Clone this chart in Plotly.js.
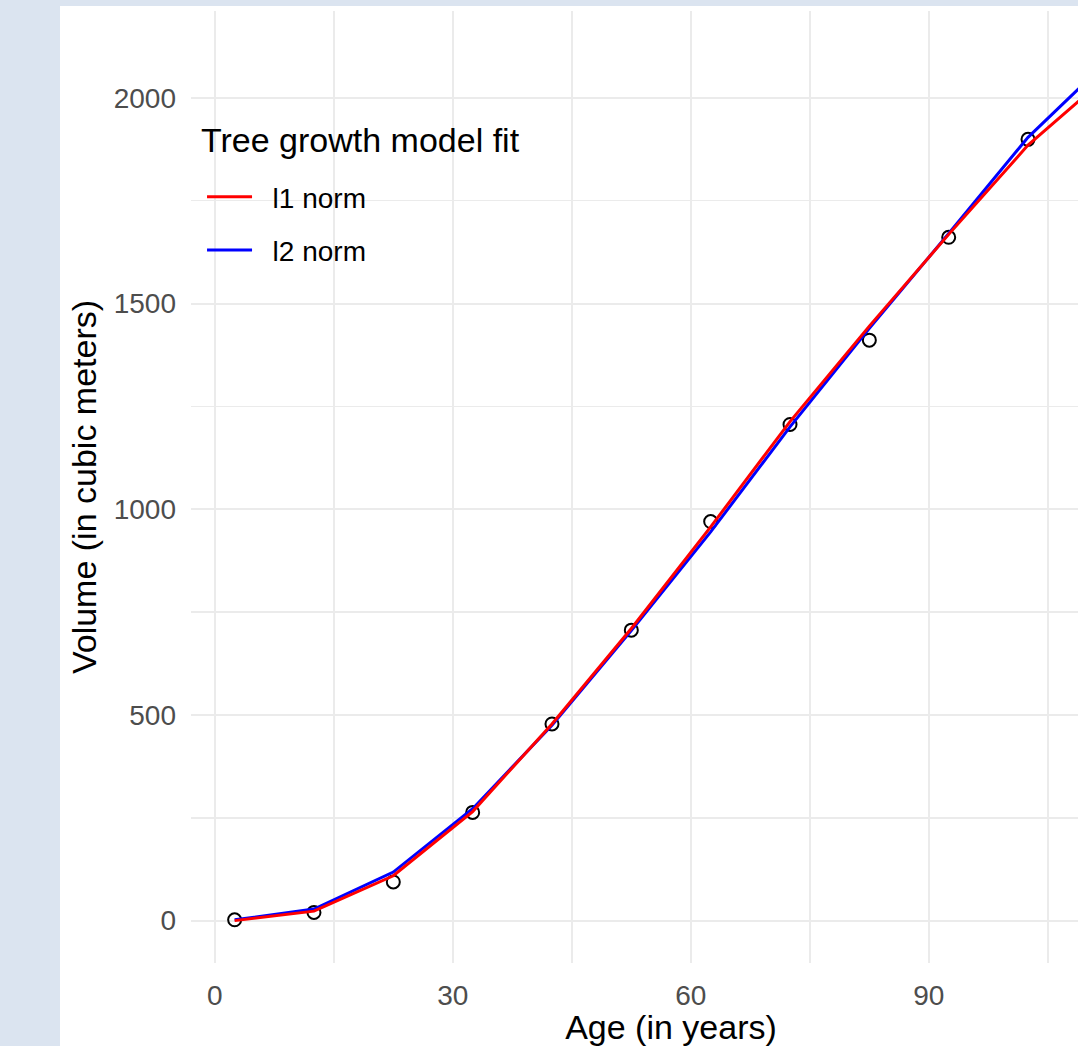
<!DOCTYPE html>
<html>
<head>
<meta charset="utf-8">
<script src="https://cdn.plot.ly/plotly-3.0.1.min.js"></script>
<style>
  html, body { margin: 0; padding: 0; background: #dbe4f0; width: 1078px; height: 1046px; overflow: hidden; position: relative; }
  #chart { position: absolute; left: 60px; top: 6px; width: 1091px; height: 1040px; background: #ffffff; }
</style>
</head>
<body>
<div id="chart"></div>
<script>
// Observed data
var obsAge = [2.5, 12.5, 22.5, 32.5, 42.5, 52.5, 62.5, 72.5, 82.5, 92.5, 102.5];
var obsVolume = [2, 20, 94, 263, 478, 706, 970, 1206, 1411, 1661, 1899];

// Fitted curves
var fitAge = [2.5, 12.5, 22.5, 32.5, 42.5, 52.5, 62.5, 72.5, 82.5, 92.5, 102.5, 112.5];
var fitL1 = [0, 23, 109, 265, 478, 710, 957, 1213, 1445, 1668, 1885, 2052];
var fitL2 = [2, 28, 118, 272, 475, 705, 945, 1200, 1440, 1670, 1904, 2089];

var seriesNames = ['l1 norm', 'l2 norm'];
var legendTitle = 'Tree growth model fit';
var xTitle = 'Age (in years)';
var yTitle = 'Volume (in cubic meters)';

var FONT = 'Liberation Sans, Arial, Helvetica, sans-serif';
var PAD = '\u00a0\u00a0'; // visual gap between legend line sample and label

var traces = [
  {
    x: obsAge, y: obsVolume, type: 'scatter', mode: 'markers',
    showlegend: false, hoverinfo: 'x+y',
    marker: { symbol: 'circle-open', size: 13, color: '#000000', line: { width: 2, color: '#000000' } }
  },
  {
    x: fitAge, y: fitL2, type: 'scatter', mode: 'lines', name: PAD + seriesNames[1],
    legendgroup: 'b', legendrank: 2,
    line: { color: '#0000ff', width: 3 }
  },
  {
    x: fitAge, y: fitL1, type: 'scatter', mode: 'lines', name: PAD + seriesNames[0],
    legendgroup: 'a', legendrank: 1,
    line: { color: '#ff0000', width: 3 }
  }
];

var layout = {
  width: 1091, height: 1040,
  margin: { l: 131, r: 0, t: 5, b: 83, pad: 0 },
  paper_bgcolor: '#ffffff', plot_bgcolor: '#ffffff',
  font: { family: FONT, size: 28, color: '#4d4d4d' },
  showlegend: true,
  legend: {
    x: 0.0115, y: 0.8309, xanchor: 'left', yanchor: 'top',
    bgcolor: 'rgba(0,0,0,0)', borderwidth: 0,
    traceorder: 'grouped', tracegroupgap: 14,
    itemwidth: 45,
    font: { family: FONT, size: 28, color: '#000000' }
  },
  annotations: [
    {
      text: legendTitle, xref: 'paper', yref: 'paper',
      x: 0.0083, y: 0.8645, xanchor: 'left', yanchor: 'middle',
      showarrow: false, font: { family: FONT, size: 34, color: '#000000' }
    }
  ],
  xaxis: {
    range: [-3, 118], autorange: false,
    tick0: 0, dtick: 30, ticks: '', showline: false, zeroline: false,
    showgrid: true, gridcolor: '#ebebeb', gridwidth: 2,
    minor: { dtick: 15, showgrid: true, gridcolor: '#ebebeb', gridwidth: 1.5 },
    tickfont: { family: FONT, size: 28, color: '#4d4d4d' },
    ticklabelstandoff: 13,
    title: { text: xTitle, font: { family: FONT, size: 34, color: '#000000' }, standoff: 11 }
  },
  yaxis: {
    range: [-103, 2211], autorange: false,
    tick0: 0, dtick: 500, ticks: '', showline: false, zeroline: false,
    showgrid: true, gridcolor: '#ebebeb', gridwidth: 2,
    minor: { dtick: 250, showgrid: true, gridcolor: '#ebebeb', gridwidth: 1.5 },
    tickfont: { family: FONT, size: 28, color: '#4d4d4d' },
    ticklabelstandoff: 14,
    title: { text: yTitle, font: { family: FONT, size: 34, color: '#000000' }, standoff: 6 }
  }
};

Plotly.newPlot('chart', traces, layout, { displayModeBar: false, staticPlot: true });
</script>
</body>
</html>
